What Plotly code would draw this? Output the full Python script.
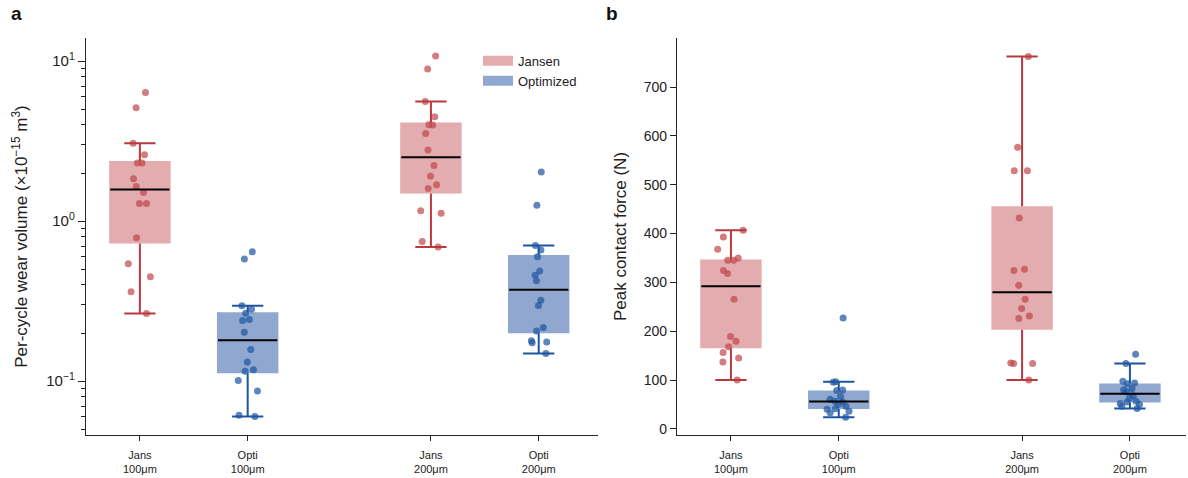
import numpy as np
import plotly.graph_objects as go

# ---------------- data ----------------
positions = [0, 1, 2.7, 3.7]
tick_labels = ["Jans<br>100μm", "Opti<br>100μm", "Jans<br>200μm", "Opti<br>200μm"]
group_of = ["Jansen", "Optimized", "Jansen", "Optimized"]

wear_jans_100 = [6.37, 5.12, 3.07, 2.60, 2.31, 2.31, 1.84, 1.65, 1.51, 1.29, 1.29, 0.787, 0.543, 0.449, 0.362, 0.265]
wear_opti_100 = [0.644, 0.580, 0.296, 0.282, 0.266, 0.243, 0.240, 0.202, 0.158, 0.132, 0.1156, 0.1178, 0.101, 0.0868, 0.0612, 0.0601]
wear_jans_200 = [10.77, 8.94, 5.60, 4.50, 4.01, 3.99, 3.53, 2.79, 2.23, 1.91, 1.69, 1.60, 1.164, 1.12, 0.747, 0.689]
wear_opti_200 = [2.03, 1.257, 0.705, 0.660, 0.600, 0.489, 0.459, 0.425, 0.321, 0.297, 0.217, 0.206, 0.179, 0.176, 0.174, 0.149]

force_jans_100 = [406.8, 393, 368, 350, 345.6, 345.6, 324.5, 318.4, 265.3, 189, 179.6, 168, 156.5, 145, 136.7, 100]
force_opti_100 = [227, 96.6, 95.3, 79.5, 78.5, 66, 60.6, 56.5, 55, 49.6, 46, 41, 40.2, 36.1, 32.7, 23.8]
force_jans_200 = [762.6, 577, 528.6, 528.6, 432, 327, 324.5, 293.9, 265.3, 246.3, 231.3, 225.9, 135, 134, 134, 100]
force_opti_200 = [153, 134, 97.3, 94, 92.5, 82.3, 80, 76.2, 68, 63.3, 56.5, 55, 51.7, 49.6, 46.3, 41.4]

wear_sets = [wear_jans_100, wear_opti_100, wear_jans_200, wear_opti_200]
force_sets = [force_jans_100, force_opti_100, force_jans_200, force_opti_200]

# ---------------- style ----------------
FONT = "Liberation Sans, Arial, Helvetica, sans-serif"
AX = "#262626"
STYLE = {
    "Jansen": dict(fill="rgba(196,78,82,0.47)", line="#b9393e", pt="rgba(192,70,74,0.7)"),
    "Optimized": dict(fill="rgba(70,110,175,0.6)", line="#1d55a2", pt="rgba(32,88,162,0.72)"),
}
BOX_W = 0.57
CAP = 0.145

fig = go.Figure()


def stats(vals):
    v = np.sort(np.asarray(vals, float))
    q1, med, q3 = np.percentile(v, [25, 50, 75])
    iqr = q3 - q1
    lo = v[v >= q1 - 1.5 * iqr].min()
    hi = v[v <= q3 + 1.5 * iqr].max()
    return q1, med, q3, lo, hi


def add_panel(sets, xa, ya):
    for g in ["Jansen", "Optimized"]:
        st = STYLE[g]
        idx = [i for i in range(4) if group_of[i] == g]
        S = [stats(sets[i]) for i in idx]
        px = [positions[i] for i in idx]
        # boxes
        fig.add_trace(go.Bar(
            x=px, y=[s[2] - s[0] for s in S], base=[s[0] for s in S],
            width=BOX_W, marker=dict(color=st["fill"], line=dict(width=0)),
            xaxis=xa, yaxis=ya, showlegend=False, hoverinfo="skip"))
        # whiskers + caps
        wx, wy = [], []
        for p, (q1, med, q3, lo, hi) in zip(px, S):
            wx += [p, p, None, p, p, None, p - CAP, p + CAP, None, p - CAP, p + CAP, None]
            wy += [lo, q1, None, q3, hi, None, lo, lo, None, hi, hi, None]
        fig.add_trace(go.Scatter(x=wx, y=wy, mode="lines",
                                 line=dict(color=st["line"], width=2),
                                 xaxis=xa, yaxis=ya, showlegend=False, hoverinfo="skip"))
        # medians
        mx, my = [], []
        for p, (q1, med, q3, lo, hi) in zip(px, S):
            mx += [p - BOX_W / 2 + 0.01, p + BOX_W / 2 - 0.01, None]
            my += [med, med, None]
        fig.add_trace(go.Scatter(x=mx, y=my, mode="lines",
                                 line=dict(color="black", width=2),
                                 xaxis=xa, yaxis=ya, showlegend=False, hoverinfo="skip"))
        # points (library jitter)
        for i in idx:
            fig.add_trace(go.Box(
                x=[positions[i]] * len(sets[i]), y=sets[i],
                boxpoints="all", jitter=0.45, pointpos=0, width=BOX_W,
                fillcolor="rgba(0,0,0,0)", line=dict(width=0),
                marker=dict(color=st["pt"], size=7, line=dict(width=0)),
                xaxis=xa, yaxis=ya, showlegend=False, hoverinfo="skip"))


add_panel(wear_sets, "x", "y")
add_panel(force_sets, "x2", "y2")

# legend entries
for g in ["Jansen", "Optimized"]:
    fig.add_trace(go.Scatter(x=[None], y=[None], mode="lines", name=g,
                             line=dict(color=STYLE[g]["fill"], width=10),
                             xaxis="x", yaxis="y"))

W, H = 1188, 478
common_x = dict(
    tickmode="array", tickvals=positions, ticktext=tick_labels,
    ticks="outside", ticklen=5, tickwidth=1.3, tickcolor=AX, ticklabelstandoff=4,
    showline=True, linecolor=AX, linewidth=1.4, showgrid=False, zeroline=False,
    tickfont=dict(family=FONT, size=11, color="#222"),
)
ybot = 1 - 437 / H
ytop = 1 - 38 / H

minor_vals = [m * 10.0 ** e for e in (-2, -1, 0) for m in range(2, 10)]

fig.update_layout(
    width=W, height=H,
    margin=dict(l=0, r=0, t=0, b=0),
    plot_bgcolor="white", paper_bgcolor="white",
    font=dict(family=FONT, color="#222"),
    barmode="overlay", boxmode="overlay",
    xaxis=dict(domain=[86 / W, 598 / W], range=[-0.5, 4.25], anchor="y", **common_x),
    xaxis2=dict(domain=[677 / W, 1186 / W], range=[-0.5, 4.22], anchor="y2", **common_x),
    yaxis=dict(
        domain=[ybot, ytop], type="log", range=[np.log10(0.046), np.log10(14.0)],
        anchor="x", tickmode="array", tickvals=[0.1, 1, 10],
        ticktext=["10<sup>−1</sup>", "10<sup>0</sup>", "10<sup>1</sup>"],
        ticks="outside", ticklen=7, tickwidth=1.3, tickcolor=AX,
        minor=dict(tickmode="array", tickvals=minor_vals, ticks="outside",
                   ticklen=4, tickwidth=1, tickcolor=AX, showgrid=False),
        showline=True, linecolor=AX, linewidth=1.4, showgrid=False, zeroline=False,
        tickfont=dict(family=FONT, size=15, color="#222"),
        title=dict(text="Per-cycle wear volume (×10<sup>−15</sup> m<sup>3</sup>)",
                   font=dict(family=FONT, size=17, color="#222"), standoff=14),
    ),
    yaxis2=dict(
        domain=[ybot, ytop], range=[-13, 801], anchor="x2",
        tickmode="array", tickvals=[0, 100, 200, 300, 400, 500, 600, 700],
        ticks="outside", ticklen=6, tickwidth=1.3, tickcolor=AX,
        showline=True, linecolor=AX, linewidth=1.4, showgrid=False, zeroline=False,
        tickfont=dict(family=FONT, size=14, color="#222"),
        title=dict(text="Peak contact force (N)",
                   font=dict(family=FONT, size=17, color="#222"), standoff=12),
    ),
    legend=dict(x=478 / W, y=1 - 46 / H, xanchor="left", yanchor="top",
                bgcolor="rgba(0,0,0,0)", font=dict(family=FONT, size=13, color="#222"),
                tracegroupgap=0, itemwidth=30),
    annotations=[
        dict(text="<b>a</b>", x=16 / W, y=1 - 14 / H, xref="paper", yref="paper",
             showarrow=False, font=dict(family=FONT, size=19, color="#111"),
             xanchor="center", yanchor="middle"),
        dict(text="<b>b</b>", x=612 / W, y=1 - 14 / H, xref="paper", yref="paper",
             showarrow=False, font=dict(family=FONT, size=19, color="#111"),
             xanchor="center", yanchor="middle"),
    ],
)

fig.write_html("out.html", config={"displayModeBar": False},
               post_script="document.body.style.margin='0px';")
